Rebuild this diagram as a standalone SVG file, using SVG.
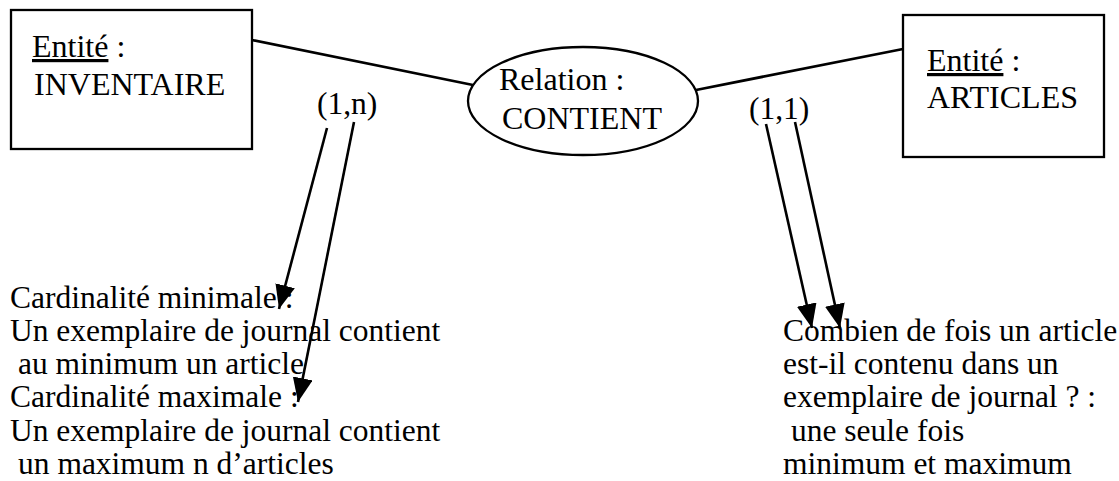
<svg xmlns="http://www.w3.org/2000/svg" width="1119" height="481" viewBox="0 0 1119 481">
  <style>
    .box { fill: #ffffff; stroke: #000000; stroke-width: 2.3; }
    .rel { fill: #ffffff; stroke: #000000; stroke-width: 2.3; }
    .t { font-family: "Liberation Serif", "Times New Roman", serif; fill: #000000; }
    .big { font-size: 32px; }
    .mid { font-size: 31.5px; }
    .link { stroke: #000000; stroke-width: 2.8; fill: none; }
    .arrow { stroke: #000000; stroke-width: 2.6; fill: none; marker-end: url(#head); }
    .u { text-decoration: underline; }
  </style>
  <defs>
    <marker id="head" markerUnits="userSpaceOnUse" markerWidth="26" markerHeight="22" refX="24" refY="10" orient="auto">
      <path d="M0,0 L24,10 L0,20 z" fill="#000000"/>
    </marker>
  </defs>
  <rect width="1119" height="481" fill="#ffffff"/>

  <g id="connectors">
    <line class="link" x1="252" y1="40" x2="473" y2="85"/>
    <line class="link" x1="696" y1="90" x2="903" y2="49"/>
    <line class="arrow" x1="327" y1="128" x2="279" y2="309"/>
    <line class="arrow" x1="354" y1="122" x2="298" y2="402"/>
    <line class="arrow" x1="766" y1="124" x2="812" y2="328"/>
    <line class="arrow" x1="795" y1="122" x2="840" y2="328"/>
  </g>

  <g id="inventaire">
    <rect class="box" x="11" y="10" width="241" height="139"/>
    <text class="t big" x="32" y="57"><tspan class="u">Entité</tspan> :</text>
    <text class="t big" x="34" y="95">INVENTAIRE</text>
  </g>

  <g id="contient">
    <ellipse class="rel" cx="583" cy="101" rx="115" ry="54"/>
    <text class="t big" x="499" y="90">Relation :</text>
    <text class="t big" x="502" y="129">CONTIENT</text>
  </g>

  <g id="articles">
    <rect class="box" x="903" y="15" width="201" height="142"/>
    <text class="t big" x="927" y="71"><tspan class="u">Entité</tspan> :</text>
    <text class="t big" x="927" y="108">ARTICLES</text>
  </g>

  <g id="card-inventaire">
    <text class="t mid" x="317" y="114">(1,n)</text>
  </g>
  <g id="card-articles">
    <text class="t mid" x="749" y="119">(1,1)</text>
  </g>

  <g id="note-left">
    <text class="t mid" x="10" y="307.5">Cardinalité minimale :</text>
    <text class="t mid" x="10" y="340.8">Un exemplaire de journal contient</text>
    <text class="t mid" x="18" y="374.1">au minimum un article</text>
    <text class="t mid" x="10" y="407.4">Cardinalité maximale :</text>
    <text class="t mid" x="10" y="440.7">Un exemplaire de journal contient</text>
    <text class="t mid" x="18" y="474">un maximum n d’articles</text>
  </g>

  <g id="note-right">
    <text class="t mid" x="783" y="340.8">Combien de fois un article</text>
    <text class="t mid" x="783" y="374.1">est-il contenu dans un</text>
    <text class="t mid" x="783" y="407.4">exemplaire de journal ? :</text>
    <text class="t mid" x="791" y="440.7">une seule fois</text>
    <text class="t mid" x="783" y="474">minimum et maximum</text>
  </g>
</svg>
